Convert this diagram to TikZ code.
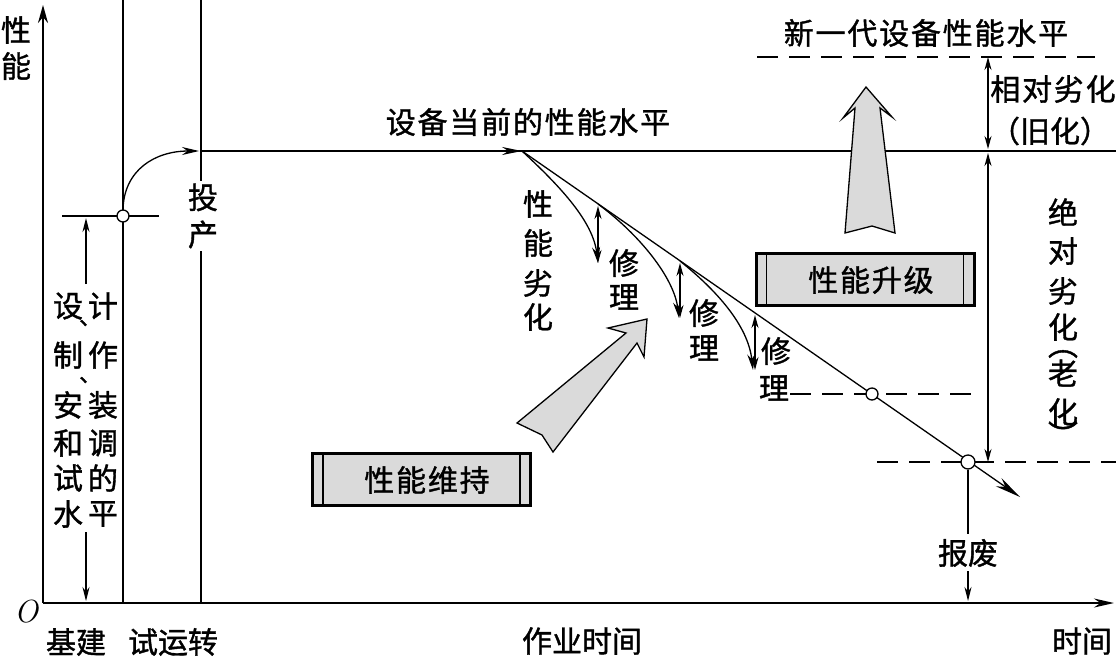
\documentclass[tikz,border=0pt]{standalone}
\usepackage{fontspec}
\newfontfamily\cjk[FakeBold=1.2]{Noto Sans CJK SC}
\newfontfamily\cjkw[LetterSpace=6,FakeBold=1.2]{Noto Sans CJK SC}
\usetikzlibrary{arrows.meta}
\definecolor{lg}{RGB}{218,218,218}
\begin{document}
\begin{tikzpicture}[x=1pt,y=-1pt,
  t/.style={font=\cjk\fontsize{30}{37}\selectfont, inner sep=0pt},
  tw/.style={font=\cjkw\fontsize{30}{37}\selectfont, inner sep=0pt},
  ln/.style={line width=1.3pt},
  axis/.style={line width=2pt},
  tip/.style={-{Stealth[length=16pt,width=8pt]}},
  dtip/.style={{Stealth[length=13pt,width=7pt]}-{Stealth[length=13pt,width=7pt]}},
  dashln/.style={line width=1.3pt, dash pattern=on 21pt off 11pt},
  dot/.style={circle, draw, fill=white, line width=1.3pt, minimum size=12pt, inner sep=0pt},
  panel/.style={draw, line width=3pt, fill=lg, minimum width=218pt, minimum height=52pt, inner sep=0pt},
  barrow/.style={draw, line width=1.3pt, fill=lg, line join=miter}
]
\useasboundingbox (0,0) rectangle (1116,657);

% axes
\coordinate (O) at (43,603);
\coordinate (ytop) at (43,5);
\coordinate (xend) at (1114,603);
\draw[axis, -{Stealth[length=18pt,width=10pt]}] (O) -- (ytop);
\draw[axis, -{Stealth[length=20pt,width=9pt]}] (O) -- (xend);
\node[font=\fontsize{32}{36}\selectfont\itshape, inner sep=0pt] (olab) at (26,612) {O};
\node[t] (yl1) at (16,30) {性};
\node[t] (yl2) at (16,66) {能};

% vertical phase lines
\coordinate (a1) at (123,0); \coordinate (a2) at (123,603);
\draw[axis] (a1) -- (a2);
\coordinate (b1) at (201,0); \coordinate (b2) at (201,603);
\draw[ln] (b1) -- (b2);
\node[t, fill=white, align=center, inner sep=3pt] (tc) at (203,216) {投\\产};

% initial level
\coordinate (tk1) at (62,216); \coordinate (tk2) at (159,216);
\draw[ln] (tk1) -- (tk2);
\node[dot] (c0) at (123,216) {};
\coordinate (bb) at (199,151);
\draw[ln, -{Stealth[length=17pt,width=8pt]}] (c0.north) .. controls (124,170) and (155,151) .. (bb);

% left double arrow and text
\coordinate (l0) at (86,218); \coordinate (l1) at (86,284);
\coordinate (l2) at (86,532); \coordinate (l3) at (86,601);
\draw[ln, -{Stealth[length=14pt,width=7pt]}] (l1) -- (l0);
\draw[ln, -{Stealth[length=14pt,width=7pt]}] (l2) -- (l3);
\node[t] (d1) at (68,306) {设}; \node[t] (d2) at (103,306) {计};
\node[t] (d3) at (68,355) {制}; \node[t] (d4) at (103,355) {作};
\node[t] (d5) at (68,405) {安}; \node[t] (d6) at (103,405) {装};
\node[t] (d7) at (68,443) {和}; \node[t] (d8) at (103,443) {调};
\node[t] (d9) at (68,478) {试}; \node[t] (d10) at (103,478) {的};
\node[t] (d11) at (68,514) {水}; \node[t] (d12) at (103,514) {平};
\node[font=\cjk\fontsize{22}{24}\selectfont, inner sep=0pt, anchor=west] (dc1) at (79,323) {、};
\node[font=\cjk\fontsize{22}{24}\selectfont, inner sep=0pt, anchor=west] (dc2) at (79,380) {、};

% current level line
\coordinate (hl) at (201,151); \coordinate (hr) at (1116,151);
\draw[ln] (hl) -- (hr);
\coordinate (P0) at (522,151);
\coordinate (ha) at (480,151);
\draw[ln, -{Stealth[length=20pt,width=8pt]}] (ha) -- (P0);
\node[tw] (cur) at (528,122) {设备当前的性能水平};

% deterioration line
\coordinate (Pend) at (1020,497);
\draw[ln, -{Stealth[length=26pt,width=10pt]}] (P0) -- (Pend);

% repair curves
\coordinate (R1) at (598,204);
\coordinate (R2) at (680,261);
\coordinate (E1) at (598,263);
\coordinate (E2) at (679,318);
\coordinate (E3) at (753,370);
\draw[ln, tip] (P0) .. controls (562,188) and (593,222) .. (E1);
\draw[ln, tip] (R1) .. controls (640,235) and (674,278) .. (E2);
\draw[ln, tip] (R2) .. controls (716,290) and (748,325) .. (E3);
\draw[ln, dtip] (598,206) -- (598,263);
\draw[ln, dtip] (680,263) -- (680,318);
\draw[ln, dtip] (755,315) -- (755,370);
\node[t] (x1) at (538,204) {性};
\node[t] (x2) at (538,243) {能};
\node[t] (x3) at (538,283) {劣};
\node[t] (x4) at (538,317) {化};
\node[t] (r1a) at (624,263) {修}; \node[t] (r1b) at (624,297) {理};
\node[t] (r2a) at (704,313) {修}; \node[t] (r2b) at (704,348) {理};
\node[t] (r3a) at (776,351) {修}; \node[t] (r3b) at (774,388) {理};

% dashed levels and points
\coordinate (dA1) at (790,394); \coordinate (dA2) at (978,394);
\draw[dashln] (dA1) -- (dA2);
\node[dot] (c1) at (872,394) {};
\coordinate (dB1) at (877,462); \coordinate (dB2) at (1116,462);
\draw[dashln] (dB1) -- (dB2);
\node[dot, minimum size=14pt] (c2) at (968,462) {};
\coordinate (dC1) at (757,57); \coordinate (dC2) at (1095,57);
\draw[dashln] (dC1) -- (dC2);
\node[tw] (newgen) at (926,33) {新一代设备性能水平};

% scrap
\node[t] (scrap) at (968,553) {报废};
\coordinate (s1) at (968,534);
\draw[ln] (c2.south) -- (s1);
\coordinate (s2) at (968,571); \coordinate (s3) at (968,601);
\draw[ln, -{Stealth[length=14pt,width=7pt]}] (s2) -- (s3);

% right double arrows
\draw[ln, dtip] (988,57) -- (988,149);
\draw[ln, dtip] (988,153) -- (988,462);
\node[tw] (rel) at (1053,89) {相对劣化};
\node[t] (old) at (1050,131) {（旧化）};
\node[t] (v1) at (1063,212) {绝};
\node[t] (v2) at (1063,251) {对};
\node[t] (v3) at (1063,291) {劣};
\node[t] (v4) at (1063,327) {化};
\node[t] (v5) at (1063,354) {︵};
\node[t] (v6) at (1063,373) {老};
\node[t] (v7) at (1063,412) {化};
\node[t] (v8) at (1063,434) {︶};

% block arrows
\draw[barrow] (866,87) -- (892,117) -- (880,108) -- (895,233) -- (872,226) -- (845,233) -- (855,108) -- (843,118) -- cycle;
\draw[barrow] (647,319) -- (608,328) -- (626,333) -- (517,423) -- (542,435) -- (553,452) -- (637,343) -- (644,357) -- cycle;

% panels
\node[panel] (keep) at (421.5,479.5) {};
\draw[ln] ([xshift=12pt]keep.north west) -- ([xshift=12pt]keep.south west);
\draw[ln] ([xshift=-12pt]keep.north east) -- ([xshift=-12pt]keep.south east);
\node[tw] (keept) at (427,480) {性能维持};
\node[panel] (up) at (865,279.5) {};
\draw[ln] ([xshift=12pt]up.north west) -- ([xshift=12pt]up.south west);
\draw[ln] ([xshift=-12pt]up.north east) -- ([xshift=-12pt]up.south east);
\node[tw] (upt) at (871,280) {性能升级};

% bottom labels
\node[t] (bl1) at (76,642) {基建};
\node[t] (bl2) at (173,642) {试运转};
\node[t] (bl3) at (582,641) {作业时间};
\node[t] (bl4) at (1082,641) {时间};
\end{tikzpicture}
\end{document}
